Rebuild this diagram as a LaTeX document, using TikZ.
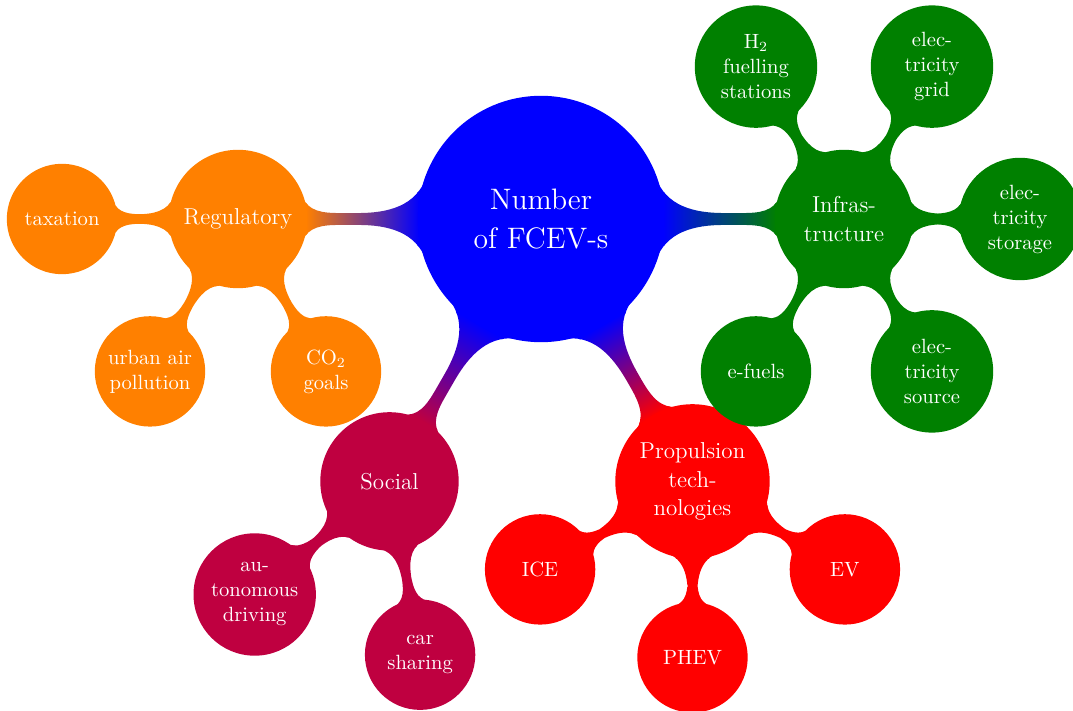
\documentclass[tikz,border=0pt]{standalone}
\usetikzlibrary{mindmap,backgrounds}
\begin{document}
\begin{tikzpicture}[x=0.5pt,y=-0.5pt,mindmap,text=white,
  base/.style={concept,inner sep=0pt,align=center},
  rootc/.style={base,concept color=blue,minimum size=122pt,text width=80pt,
    font=\fontsize{14.8}{19.3}\selectfont},
  topic/.style={base,minimum size=68pt,text width=60pt,
    font=\fontsize{11.5}{14.2}\selectfont},
  leaf/.style={base,minimum size=54pt,text width=46pt,
    font=\fontsize{10.3}{12.5}\selectfont},
  bigleaf/.style={leaf,minimum size=60pt},
  bar/.style={circle connection bar switch color=from (#1) to (#1)},
  link/.style 2 args={circle connection bar switch color=from (#1) to (#2)}]
\useasboundingbox (0,0) rectangle (1073,711);

% centre
\node[rootc] (root) at (541,219) {Number\\of FCEV-s};

% first ring
\node[topic,concept color=orange] (reg) at (238,219) {Regulatory};
\node[topic,concept color=green!50!black] (infra) at (844,219) {Infras-\\tructure};
\node[topic,concept color=purple] (soc) at (389.5,481.4) {Social};
\node[topic,concept color=red,minimum size=76pt] (prop) at (692.5,481.4) {Propulsion\\tech-\\nologies};

% regulatory leaves
\node[leaf,concept color=orange] (tax) at (62,219) {taxation};
\node[leaf,concept color=orange] (urban) at (150,371.4) {urban air\\pollution};
\node[leaf,concept color=orange] (co2) at (326,371.4) {CO$_2$\\goals};

% infrastructure leaves
\node[bigleaf,concept color=green!50!black] (h2) at (756,66.6) {H$_2$\\fuelling\\stations};
\node[bigleaf,concept color=green!50!black] (grid) at (932,66.6) {elec-\\tricity\\grid};
\node[bigleaf,concept color=green!50!black] (store) at (1020,219) {elec-\\tricity\\storage};
\node[leaf,concept color=green!50!black] (efuel) at (756,371.4) {e-fuels};
\node[bigleaf,concept color=green!50!black] (source) at (932,371.4) {elec-\\tricity\\source};

% social leaves
\node[bigleaf,concept color=purple] (auto) at (254.7,594.5) {au-\\tonomous\\driving};
\node[leaf,concept color=purple] (share) at (420.1,654.7) {car\\sharing};

% propulsion leaves
\node[leaf,concept color=red] (ice) at (540.1,569.4) {ICE};
\node[leaf,concept color=red] (phev) at (692.5,657.4) {PHEV};
\node[leaf,concept color=red] (ev) at (844.9,569.4) {EV};

\begin{scope}[on background layer]
  \path (root) to[link={blue}{orange}] (reg);
  \path (root) to[link={blue}{green!50!black}] (infra);
  \path (root) to[link={blue}{purple}] (soc);
  \path (root) to[link={blue}{red}] (prop);

  \path (reg) to[bar=orange] (tax);
  \path (reg) to[bar=orange] (urban);
  \path (reg) to[bar=orange] (co2);

  \path (infra) to[bar=green!50!black] (h2);
  \path (infra) to[bar=green!50!black] (grid);
  \path (infra) to[bar=green!50!black] (store);
  \path (infra) to[bar=green!50!black] (efuel);
  \path (infra) to[bar=green!50!black] (source);

  \path (soc) to[bar=purple] (auto);
  \path (soc) to[bar=purple] (share);

  \path (prop) to[bar=red] (ice);
  \path (prop) to[bar=red] (phev);
  \path (prop) to[bar=red] (ev);
\end{scope}
\end{tikzpicture}
\end{document}
